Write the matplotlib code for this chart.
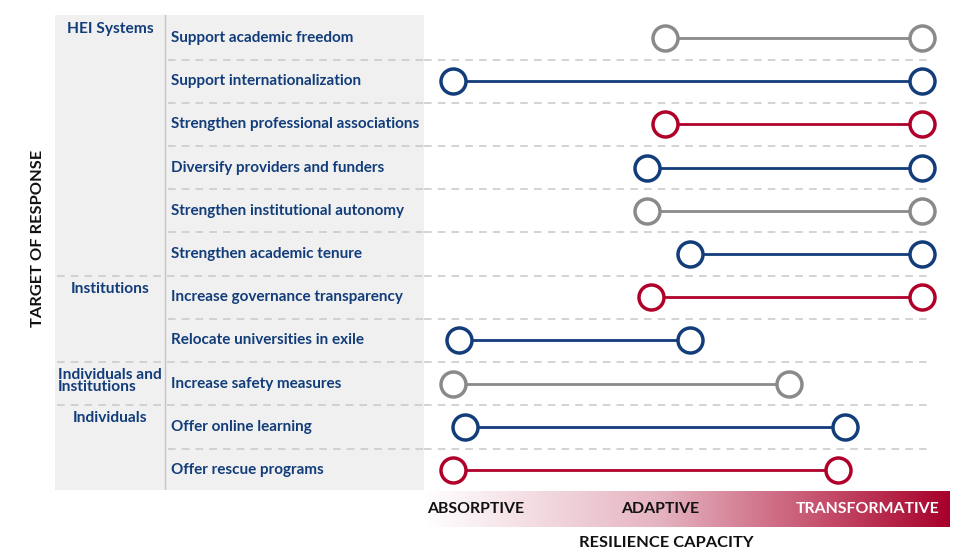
import matplotlib
matplotlib.use("Agg")
import matplotlib.pyplot as plt
import numpy as np
from matplotlib.colors import LinearSegmentedColormap

# data: resilience capacity scale, 0 = absorptive ... 10 = transformative
items = ["Support academic freedom", "Support internationalization",
         "Strengthen professional associations", "Diversify providers and funders",
         "Strengthen institutional autonomy", "Strengthen academic tenure",
         "Increase governance transparency", "Relocate universities in exile",
         "Increase safety measures", "Offer online learning", "Offer rescue programs"]
start = [4.52, 0.0, 4.52, 4.14, 4.14, 5.05, 4.22, 0.13, 0.0, 0.26, 0.0]
end = [10.0, 10.0, 10.0, 10.0, 10.0, 10.0, 10.0, 5.05, 7.16, 8.36, 8.21]
groups = ["HEI Systems", "Institutions", "Individuals and\nInstitutions", "Individuals"]
group_start = [0, 6, 8, 9]
capacities = ["ABSORPTIVE", "ADAPTIVE", "TRANSFORMATIVE"]

NAVY = "#123d7a"
RED = "#b0002a"
GREY = "#8a8a8a"
row_colors = [GREY, NAVY, RED, NAVY, GREY, NAVY, RED, NAVY, GREY, NAVY, RED]

plt.rcParams['font.family'] = ['Lato', 'DejaVu Sans']

W, H = 979, 560
fig = plt.figure(figsize=(W / 100, H / 100), dpi=100)

def box(x0, y0, x1, y1):
    return [x0 / W, 1 - y1 / H, (x1 - x0) / W, (y1 - y0) / H]

n = len(items)
ylim = (n - 1 + 0.46, -0.53)

# left table panel
axl = fig.add_axes(box(55, 15, 424, 490))
axl.set_xlim(0, 1)
axl.set_ylim(*ylim)
axl.set_facecolor("#f0f0f0")
for s in axl.spines.values():
    s.set_visible(False)
axl.set_xticks([])
axl.set_yticks([])
div = (165 - 55) / 369
axl.axvline(div, color="#c4c4c4", lw=1)

# right dumbbell panel
axr = fig.add_axes(box(424, 15, 950, 490))
x_px = lambda p: (p - 453) / 46.9
axr.set_xlim(x_px(424), x_px(950))
axr.set_ylim(*ylim)
axr.axis("off")

dash = dict(color="#c8c8c8", lw=1.1, dashes=(5, 4))
for k in range(n - 1):
    y = k + 0.5
    if (k + 1) in group_start:
        axl.axhline(y, xmin=0.005, xmax=1, **dash)
    else:
        axl.axhline(y, xmin=div + 0.008, xmax=1, **dash)
    axr.axhline(y, xmin=0, xmax=(930 - 424) / 526, **dash)

for i, (s, e, c) in enumerate(zip(start, end, row_colors)):
    axr.plot([s, e], [i, i], color=c, lw=2.0, zorder=2, solid_capstyle="butt")
    axr.plot([s, e], [i, i], ls="none", marker="o", ms=18, mfc="white",
             mec=c, mew=2.5, zorder=3, clip_on=False)

for i, lab in enumerate(items):
    axl.text((171 - 55) / 369, i, lab, color=NAVY, fontsize=11,
             fontweight="bold", va="center", ha="left")
for g, st in zip(groups, group_start):
    axl.text(0.149, st - 0.36, g, color=NAVY, fontsize=11.2, fontweight="bold",
             va="top", ha="center", multialignment="left", linespacing=0.85)

# gradient bar
axg = fig.add_axes(box(424, 491, 950, 527))
cmap = LinearSegmentedColormap.from_list(
    "res", [(0, "#ffffff"), (0.45, "#e5b3c0"), (0.75, "#c6536f"), (1, "#a8002a")])
axg.imshow(np.linspace(0, 1, 256)[None, :], aspect="auto", cmap=cmap,
           extent=[0, 1, 0, 1])
axg.axis("off")
axg.text(3 / 526, 0.5, capacities[0], transform=axg.transAxes, ha="left",
         va="center", fontsize=11.4, fontweight="bold", color="#111111")
axg.text((660 - 424) / 526, 0.5, capacities[1], transform=axg.transAxes,
         ha="center", va="center", fontsize=11.4, fontweight="bold", color="#111111")
axg.text((940 - 424) / 526, 0.5, capacities[2], transform=axg.transAxes,
         ha="right", va="center", fontsize=11.4, fontweight="bold", color="white")

fig.text(666 / W, 1 - 543 / H, "RESILIENCE CAPACITY", ha="center", va="center",
         fontsize=11.8, fontweight="bold", color="#111111")
fig.text(38 / W, 1 - 238 / H, "TARGET OF RESPONSE", ha="center", va="center",
         rotation=90, fontsize=11.8, fontweight="bold", color="#111111")

fig.savefig("out.png", dpi=100)
